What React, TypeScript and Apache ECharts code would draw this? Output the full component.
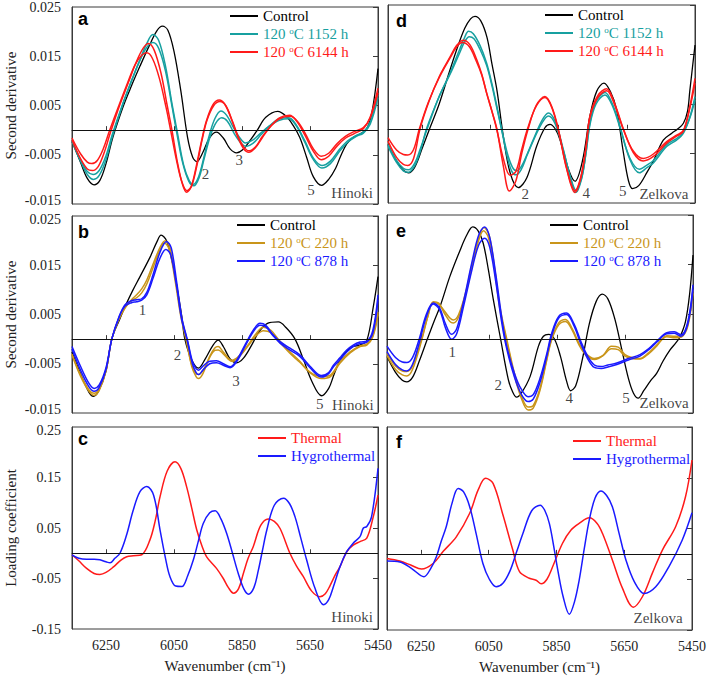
import React, { useEffect, useRef } from "react";
import * as echarts from "echarts";

type P = [number, number][];

// Second-derivative panels: values in units of 10^-3 (axis labels show the real value)
// ---------- Panel a (Hinoki, thermal) ----------
const aControl: P = [[6350,-2.3],[6325,-6.5],[6305,-9.8],[6285,-11.1],[6268,-10.2],[6250,-6.8],[6230,-1.5],[6200,4.7],[6175,9],[6150,13],[6125,16.8],[6100,20.2],[6084,21.1],[6068,20.3],[6050,16],[6030,8],[6010,-1.5],[5995,-5.5],[5983,-6.4],[5965,-4.5],[5945,-1.5],[5925,-0.4],[5905,-1.6],[5885,-3.8],[5866,-4.6],[5848,-4],[5825,-2],[5805,0],[5780,2.6],[5745,3.8],[5720,2.8],[5700,1],[5680,-1.5],[5660,-5.5],[5640,-9.5],[5616,-11.2],[5595,-10],[5575,-7.8],[5560,-5.3],[5542,-2.8],[5523,-1.5],[5503,-0.8],[5483,0.3],[5468,3.5],[5450,12.5]];
const aTeal1: P = [[6350,-2.3],[6325,-6.3],[6305,-9],[6287,-10],[6270,-9.2],[6250,-6],[6232,-1.5],[6200,5.3],[6175,10],[6150,14.3],[6130,17.6],[6112,19.4],[6095,18.2],[6075,13],[6055,5],[6040,-0.5],[6022,-7],[6005,-10.3],[5993,-11],[5978,-9.5],[5962,-5.5],[5948,-1.5],[5930,2.3],[5912,3.9],[5895,3],[5875,0.5],[5855,-1.7],[5840,-2.6],[5820,-2.1],[5795,-0.6],[5770,0.8],[5740,2],[5712,2.3],[5690,0.8],[5665,-2.5],[5640,-6],[5615,-7.7],[5590,-6.8],[5562,-4.2],[5540,-2.5],[5515,-1.3],[5493,-0.6],[5473,1.2],[5450,6.6]];
const aTeal2: P = [[6350,-2],[6325,-6],[6305,-8.4],[6288,-9],[6270,-8.2],[6250,-5.2],[6232,-1],[6200,5.5],[6175,10],[6150,14.2],[6128,17],[6112,17.8],[6095,16.6],[6075,12],[6055,4.5],[6042,-0.5],[6025,-6.5],[6007,-10.3],[5992,-11.3],[5977,-9.8],[5962,-6],[5945,-1.6],[5928,1.3],[5910,2.5],[5893,1.8],[5872,-0.8],[5852,-2.7],[5838,-3.3],[5818,-2.7],[5795,-1],[5770,0.8],[5740,2.3],[5712,2.5],[5690,1],[5665,-2.2],[5640,-5.7],[5615,-7.2],[5590,-6.3],[5562,-3.8],[5540,-2.2],[5515,-1.1],[5493,-0.4],[5473,1.6],[5450,7.2]];
const aRed1: P = [[6350,-2],[6325,-5.8],[6305,-7.9],[6290,-8.2],[6273,-7.4],[6255,-4.5],[6237,-0.5],[6210,5],[6185,9.5],[6160,14],[6140,16.7],[6125,17.6],[6108,16.2],[6088,11.5],[6070,5],[6056,0],[6040,-6.5],[6025,-11],[6013,-12.6],[6000,-11.6],[5985,-7.5],[5970,-2.5],[5955,1.8],[5935,5.2],[5917,6.1],[5900,5.2],[5880,2],[5862,-1.5],[5845,-3.8],[5830,-4.5],[5812,-3.7],[5790,-1.5],[5768,0.6],[5740,2.5],[5710,3],[5688,1.7],[5665,-1],[5640,-4.3],[5617,-6],[5595,-5.3],[5570,-3.2],[5545,-1.6],[5520,-0.7],[5493,0.3],[5473,2.6],[5450,8.5]];
const aRed2: P = [[6350,-1.6],[6325,-4.8],[6305,-6.5],[6292,-6.8],[6275,-6.1],[6258,-3.8],[6240,-0.2],[6212,5],[6187,9.5],[6165,13.2],[6145,15.2],[6130,15.7],[6113,14.5],[6093,10.5],[6073,4.5],[6060,0],[6043,-6],[6027,-10.5],[6012,-12.3],[5998,-11.3],[5983,-7.3],[5968,-2.2],[5953,2],[5933,5],[5915,5.8],[5898,5],[5878,1.8],[5860,-1.5],[5843,-3.6],[5828,-4.2],[5810,-3.4],[5790,-1.3],[5768,0.6],[5740,2.3],[5708,2.8],[5686,1.7],[5663,-0.8],[5640,-3.8],[5617,-5.3],[5595,-4.7],[5570,-2.7],[5545,-1.2],[5520,-0.3],[5493,0.5],[5473,2.5],[5450,7.6]];

// ---------- Panel b (Hinoki, hygrothermal) ----------
const bControl: P = [[6350,-2.6],[6325,-7],[6300,-10.8],[6287,-11.6],[6272,-10.6],[6250,-6.5],[6233,0],[6210,4],[6194,6.6],[6172,9.8],[6150,12.7],[6120,16.7],[6100,19.8],[6088,21.1],[6072,20],[6052,14.7],[6035,8],[6027,4.6],[6018,0],[5998,-4.2],[5978,-5.9],[5958,-4],[5935,-1.2],[5920,-0.2],[5905,-1.5],[5885,-4],[5866,-4.8],[5845,-3.8],[5820,-1],[5800,1.5],[5775,3.2],[5743,3.5],[5720,2.3],[5694,0],[5670,-4],[5645,-8.5],[5616,-11.5],[5595,-10],[5581,-7.5],[5562,-4.3],[5542,-2.4],[5523,-1.5],[5503,-1.2],[5483,-0.3],[5464,6.5],[5450,12.7]];
const bGold1: P = [[6350,-3.2],[6325,-7.5],[6300,-10.6],[6285,-11.4],[6270,-10.4],[6250,-6.5],[6233,0],[6212,4],[6194,6.3],[6175,8],[6160,9],[6145,10.2],[6130,12],[6110,15.5],[6090,18.8],[6076,20],[6062,18.6],[6045,12],[6028,4.5],[6013,0],[5998,-5.5],[5985,-7.6],[5978,-8],[5965,-7],[5945,-3.5],[5930,-1.8],[5920,-1.5],[5905,-2.6],[5880,-4.3],[5860,-3.5],[5830,-1],[5810,1],[5787,2.4],[5765,1.8],[5740,-0.3],[5710,-2.5],[5680,-4.5],[5650,-6.8],[5616,-8],[5590,-7.6],[5562,-4.9],[5532,-2.8],[5503,-1.5],[5483,-1.2],[5465,0.5],[5450,5]];
const bGold2: P = [[6350,-3],[6325,-7.2],[6300,-10.3],[6285,-11],[6270,-10],[6250,-6.2],[6233,0],[6212,4.2],[6194,6.5],[6175,7.8],[6160,8.4],[6145,9.4],[6130,11.2],[6110,14.8],[6092,18],[6078,19.5],[6064,18.2],[6047,12],[6030,4.6],[6015,0],[6000,-4.8],[5987,-6.8],[5978,-7.2],[5965,-6.4],[5945,-3.7],[5930,-2.3],[5920,-2.2],[5905,-3],[5880,-4.5],[5860,-3.7],[5830,-1.2],[5810,0.6],[5787,1.7],[5765,1.3],[5740,-0.6],[5710,-2.8],[5680,-4.7],[5650,-6.7],[5616,-7.6],[5590,-7.3],[5562,-4.6],[5532,-2.6],[5503,-1.4],[5483,-1],[5465,0.8],[5450,5.5]];
const bBlue1: P = [[6350,-1.5],[6325,-5.5],[6300,-9],[6285,-10],[6270,-9.3],[6250,-5.8],[6233,0],[6212,4.5],[6194,7],[6175,7.8],[6160,8],[6145,8.2],[6130,9.5],[6112,13],[6092,17.5],[6072,19.8],[6058,18.5],[6042,11.5],[6026,4],[6011,0],[5996,-4.5],[5985,-6],[5978,-6.3],[5965,-5.5],[5945,-4.5],[5925,-4.4],[5905,-5],[5885,-5.6],[5865,-4.2],[5840,-1],[5815,2],[5797,3.2],[5780,2.8],[5760,1],[5738,-0.5],[5710,-1.8],[5680,-3.2],[5650,-5.5],[5616,-7.4],[5595,-6.8],[5581,-5.3],[5562,-3.8],[5542,-2.2],[5523,-1.2],[5503,-0.6],[5483,-0.4],[5465,1.8],[5450,9]];
const bBlue2: P = [[6350,-2],[6325,-6.3],[6300,-9.7],[6285,-10.6],[6270,-9.8],[6250,-6.2],[6233,0],[6212,4.4],[6194,6.7],[6175,7.4],[6160,7.6],[6145,7.9],[6130,9],[6112,12.3],[6092,16.3],[6074,18.2],[6060,17.2],[6043,11],[6027,3.8],[6012,0],[5996,-5],[5985,-6.8],[5978,-7.2],[5965,-6.3],[5945,-5],[5925,-4.8],[5905,-5.3],[5885,-5.8],[5865,-4.5],[5840,-1.3],[5815,1.7],[5797,2.8],[5780,2.5],[5760,0.8],[5738,-0.8],[5710,-2.2],[5680,-3.5],[5650,-5.8],[5616,-7.7],[5595,-7],[5581,-5.6],[5562,-4.2],[5542,-2.6],[5523,-1.5],[5503,-0.9],[5483,-0.6],[5465,1.3],[5450,8]];

// ---------- Panel d (Zelkova, thermal) ----------
const dControl: P = [[6350,-3.2],[6325,-6.5],[6305,-8.4],[6290,-8.9],[6272,-7.8],[6250,-4],[6228,0],[6200,5],[6170,11.5],[6145,16.7],[6125,20.3],[6108,22.2],[6095,22.7],[6078,21.8],[6060,18.5],[6045,13],[6030,7.5],[6012,-1.5],[5992,-8.9],[5968,-11.9],[5943,-9.9],[5914,-3.5],[5890,0.2],[5875,0.9],[5860,0],[5846,-2.2],[5821,-8.2],[5802,-10.6],[5780,-6.5],[5758,2.6],[5738,7.6],[5717,9.2],[5698,7.5],[5680,3.9],[5660,-4.8],[5645,-10.5],[5633,-12.1],[5615,-11.5],[5590,-8.7],[5572,-6.5],[5543,-2.3],[5518,-0.9],[5500,0],[5484,1.1],[5472,3.5],[5465,7.8],[5450,16.9]];
const dTeal1: P = [[6350,-3.5],[6325,-6.8],[6305,-8.5],[6290,-8.8],[6272,-7.5],[6255,-4.5],[6237,0],[6200,6.5],[6168,11.3],[6140,16],[6125,18.5],[6114,19.7],[6100,19.2],[6080,16.8],[6061,13.3],[6045,9],[6031,4.6],[6017,0],[6000,-5],[5985,-7.8],[5973,-8.5],[5958,-7.5],[5940,-4.8],[5924,-2.2],[5900,1.5],[5880,3.2],[5860,1.5],[5836,-4.2],[5815,-10],[5799,-12.9],[5782,-10],[5770,-5],[5758,1.2],[5740,5.5],[5714,7.3],[5692,5],[5670,0.5],[5641,-6.2],[5613,-8.9],[5590,-7.8],[5572,-6.9],[5533,-3.6],[5504,-2.3],[5484,-0.9],[5465,2.4],[5450,6.5]];
const dTeal2: P = [[6350,-3.2],[6325,-6.4],[6305,-8],[6290,-8.3],[6272,-7],[6255,-4],[6235,0],[6200,6.5],[6168,11],[6140,15.3],[6125,17.6],[6112,18.6],[6098,18.2],[6080,16],[6061,12.8],[6045,8.6],[6031,4.2],[6016,-0.5],[6000,-5.8],[5987,-8.6],[5975,-9.3],[5960,-8.3],[5942,-5.3],[5924,-2.4],[5900,1],[5880,2.6],[5860,1],[5836,-4.4],[5815,-9.8],[5799,-12.4],[5782,-9.8],[5770,-5.2],[5758,0.8],[5740,5],[5714,6.8],[5692,4.6],[5670,0.2],[5641,-5.9],[5613,-8.2],[5590,-7.3],[5572,-6.4],[5533,-3.2],[5504,-2],[5484,-0.7],[5465,2.2],[5450,5.8]];
const dRed1: P = [[6350,-2.5],[6325,-5.8],[6305,-7.2],[6292,-7.4],[6275,-6],[6256,0],[6230,5.5],[6200,10.5],[6168,14.5],[6149,16.8],[6129,17.9],[6110,17],[6090,14],[6075,11],[6061,7.3],[6045,3.5],[6031,0],[6012,-7.5],[5994,-12.6],[5975,-10.5],[5958,-5],[5939,0],[5915,4.8],[5890,6.5],[5870,4.5],[5851,0],[5826,-8.2],[5802,-12.9],[5785,-10],[5770,-4],[5758,2.6],[5735,6.7],[5709,8.1],[5685,5],[5660,0],[5631,-4.8],[5602,-6.5],[5572,-5.6],[5533,-2.9],[5504,-1.5],[5484,-0.5],[5465,4.6],[5450,10.2]];
const dRed2: P = [[6350,-1.8],[6325,-4.3],[6305,-5.2],[6292,-5.3],[6275,-4.2],[6258,0],[6232,5.3],[6200,10.3],[6168,14.3],[6149,16.5],[6132,17.4],[6112,16.6],[6092,13.8],[6075,10.8],[6061,7.2],[6045,3.4],[6031,-0.2],[6012,-6],[5992,-9.4],[5975,-8.6],[5958,-4.2],[5941,0],[5915,4.6],[5890,6.3],[5870,4.3],[5851,-0.2],[5826,-8],[5802,-12.5],[5785,-9.8],[5770,-4],[5758,2.3],[5735,6.3],[5709,7.7],[5685,4.7],[5660,-0.2],[5631,-4.5],[5602,-6],[5572,-5.1],[5533,-2.6],[5504,-1.3],[5484,-0.3],[5465,4.2],[5450,9.2]];

// ---------- Panel e (Zelkova, hygrothermal) ----------
const eControl: P = [[6350,-3.6],[6325,-6.8],[6305,-8.4],[6292,-8.7],[6275,-7.8],[6255,-4.5],[6231,0],[6210,3.8],[6194,6.5],[6165,12.6],[6135,17.9],[6115,21],[6098,22.6],[6082,21.8],[6067,19.3],[6052,14],[6037,7.8],[6016,0],[5993,-8.3],[5980,-10.8],[5969,-11.8],[5955,-11],[5929,-7.6],[5905,-1.6],[5890,0.5],[5875,0.9],[5858,0],[5840,-3.5],[5822,-8.5],[5810,-10.5],[5795,-9.5],[5775,-4],[5755,3],[5735,7.5],[5717,9],[5700,8],[5680,4],[5660,-2],[5640,-8],[5625,-11],[5611,-12],[5595,-10.5],[5575,-8.5],[5557,-7],[5538,-4.5],[5518,-2.3],[5500,-0.8],[5488,0.4],[5472,3.5],[5460,9],[5450,16.9]];
const eGold1: P = [[6350,-2.9],[6325,-5.5],[6305,-6.5],[6292,-6.6],[6275,-5.5],[6248,0],[6230,4.5],[6214,7.3],[6198,7],[6180,5.5],[6165,4.2],[6155,3.8],[6140,4.8],[6120,9],[6100,15],[6082,20],[6065,22.5],[6050,21],[6035,15],[6018,6.5],[5998,0],[5975,-7],[5955,-11.5],[5935,-13.8],[5920,-13.5],[5900,-10],[5880,-4],[5866,0],[5845,3.2],[5825,3.9],[5805,2],[5785,-1],[5765,-3],[5740,-4],[5715,-3.4],[5690,-2],[5670,-2.2],[5650,-3.5],[5630,-4],[5606,-4.1],[5580,-3],[5557,-1.5],[5527,0.6],[5503,0.5],[5483,0.7],[5465,3],[5450,9.9]];
const eGold2: P = [[6350,-3.4],[6325,-6.2],[6305,-7.3],[6292,-7.5],[6275,-6.2],[6248,-0.3],[6230,4.5],[6214,7.5],[6198,7.2],[6180,5],[6165,3.5],[6155,3.2],[6140,4.3],[6120,8.6],[6100,14.5],[6082,19.5],[6066,21.8],[6052,20.5],[6035,14.6],[6018,6],[5998,-0.5],[5975,-7.5],[5955,-12],[5935,-14.4],[5920,-14],[5900,-10.4],[5880,-4.3],[5866,-0.3],[5845,2.8],[5825,3.5],[5805,1.7],[5785,-1.3],[5765,-3.3],[5740,-4.2],[5715,-3.4],[5690,-1.5],[5670,-1.7],[5650,-3.2],[5630,-3.8],[5606,-4],[5580,-2.8],[5557,-1.3],[5527,0.4],[5503,0.2],[5483,0.4],[5465,2.6],[5450,9.2]];
const eBlue1: P = [[6350,-1.5],[6325,-3.8],[6305,-4.7],[6292,-4.8],[6275,-3.8],[6255,0],[6235,4.8],[6214,7.2],[6195,6.2],[6178,3],[6160,0.9],[6145,2],[6125,7.5],[6100,15.5],[6080,21],[6063,22.6],[6048,20.5],[6030,13],[6012,4],[5998,-1.5],[5975,-7],[5955,-10.2],[5935,-11.7],[5920,-11.3],[5900,-8],[5880,-3],[5866,1],[5845,4.5],[5822,5.2],[5800,3],[5780,-0.5],[5760,-3.5],[5740,-5.3],[5720,-5.6],[5700,-5.3],[5674,-4.9],[5640,-4],[5606,-3.2],[5580,-2],[5557,-0.5],[5527,1.2],[5505,1.4],[5485,0.8],[5465,3.5],[5450,10.9]];
const eBlue2: P = [[6350,-2.6],[6325,-5.2],[6305,-6.3],[6292,-6.5],[6275,-5.2],[6255,-0.8],[6235,4.3],[6214,7],[6195,5.8],[6178,2.2],[6160,-0.1],[6145,1],[6125,6.5],[6100,14],[6080,19],[6063,20.3],[6048,18.5],[6030,11.5],[6012,3],[5998,-2],[5975,-7.8],[5955,-11.2],[5935,-12.7],[5920,-12.2],[5900,-8.8],[5880,-3.5],[5866,0.5],[5845,4.2],[5822,4.9],[5800,2.6],[5780,-1],[5760,-4],[5740,-5.8],[5720,-6],[5700,-5.7],[5674,-5.2],[5640,-4.3],[5606,-3.5],[5580,-2.2],[5557,-0.7],[5527,1],[5505,1.1],[5485,0.5],[5465,3],[5450,10]];

// ---------- Panel c (Hinoki loadings) ----------
const cThermal: P = [[6350,-0.003],[6330,-0.015],[6307,-0.03],[6285,-0.04],[6268,-0.042],[6250,-0.038],[6228,-0.027],[6205,-0.013],[6189,-0.007],[6170,-0.005],[6145,-0.003],[6121,0.026],[6105,0.065],[6091,0.112],[6070,0.163],[6047,0.181],[6030,0.168],[6013,0.132],[5998,0.09],[5983,0.046],[5968,0.015],[5954,-0.007],[5925,-0.03],[5905,-0.05],[5890,-0.068],[5875,-0.079],[5860,-0.07],[5846,-0.04],[5832,-0.01],[5817,0.013],[5795,0.055],[5773,0.068],[5755,0.063],[5738,0.049],[5709,0],[5690,-0.025],[5670,-0.046],[5645,-0.075],[5621,-0.086],[5605,-0.08],[5591,-0.064],[5575,-0.042],[5562,-0.027],[5542,0.003],[5523,0.016],[5503,0.023],[5483,0.03],[5464,0.072],[5450,0.115]];
const cHygro: P = [[6350,-0.003],[6330,-0.01],[6307,-0.012],[6285,-0.012],[6268,-0.013],[6250,-0.017],[6238,-0.019],[6224,-0.01],[6209,0],[6190,0.035],[6170,0.085],[6150,0.122],[6130,0.132],[6110,0.115],[6091,0.046],[6075,-0.01],[6062,-0.046],[6045,-0.065],[6027,-0.066],[6010,-0.045],[5993,-0.013],[5978,0.025],[5964,0.059],[5945,0.08],[5929,0.084],[5912,0.068],[5895,0.039],[5878,0],[5861,-0.04],[5845,-0.07],[5831,-0.081],[5815,-0.068],[5802,-0.034],[5790,0.005],[5777,0.046],[5755,0.095],[5728,0.109],[5710,0.098],[5694,0.072],[5677,0.03],[5660,-0.013],[5635,-0.07],[5610,-0.102],[5595,-0.092],[5581,-0.066],[5562,-0.027],[5542,0.003],[5523,0.02],[5503,0.033],[5493,0.05],[5483,0.053],[5469,0.072],[5450,0.168]];

// ---------- Panel f (Zelkova loadings) ----------
const fThermal: P = [[6350,-0.009],[6312,-0.014],[6280,-0.022],[6248,-0.03],[6214,-0.019],[6184,0.005],[6145,0.034],[6106,0.08],[6081,0.126],[6059,0.149],[6037,0.139],[6008,0.077],[5979,0.008],[5959,-0.035],[5930,-0.048],[5910,-0.052],[5895,-0.059],[5878,-0.05],[5861,-0.025],[5832,0.021],[5807,0.047],[5783,0.06],[5753,0.071],[5730,0.06],[5714,0.04],[5685,-0.012],[5655,-0.068],[5623,-0.105],[5596,-0.084],[5567,-0.038],[5537,0.008],[5498,0.054],[5469,0.113],[5450,0.185]];
const fHygro: P = [[6350,-0.014],[6312,-0.016],[6277,-0.029],[6241,-0.045],[6222,-0.03],[6204,-0.005],[6190,0.025],[6175,0.054],[6158,0.1],[6140,0.129],[6124,0.122],[6106,0.093],[6087,0.04],[6067,-0.019],[6048,-0.05],[6028,-0.065],[6008,-0.058],[5988,-0.035],[5968,0.003],[5949,0.04],[5923,0.085],[5898,0.096],[5884,0.085],[5871,0.06],[5858,0.015],[5846,-0.032],[5830,-0.085],[5812,-0.119],[5797,-0.095],[5783,-0.052],[5768,0.01],[5753,0.067],[5736,0.11],[5719,0.124],[5702,0.115],[5685,0.093],[5665,0.04],[5645,-0.012],[5620,-0.055],[5591,-0.078],[5557,-0.065],[5518,-0.025],[5479,0.027],[5450,0.081]];

// ---------- Annotations [wavenumber, value, text] ----------
const annoA: [number, number, string][] = [[5957,-9,"2"],[5858,-6,"3"],[5647,-12.2,"5"],[5526,-12.8,"Hinoki"]];
const annoB: [number, number, string][] = [[6143,5.9,"1"],[6040,-3.2,"2"],[5868,-8.6,"3"],[5621,-13.2,"5"],[5524,-13.4,"Hinoki"]];
const annoC: [number, number, string][] = [[5526,-0.126,"Hinoki"]];
const annoD: [number, number, string][] = [[5948,-13.2,"2"],[5769,-12.9,"4"],[5662,-12.5,"5"],[5541,-13.2,"Zelkova"]];
const annoE: [number, number, string][] = [[6158,-2.6,"1"],[6023,-9.3,"2"],[5814,-12,"4"],[5647,-12,"5"],[5535,-13,"Zelkova"]];
const annoF: [number, number, string][] = [[5550,-0.126,"Zelkova"]];

const xTicks = { min: 5450, max: 6350, interval: 200 };
const derivTicks = { min: -15, max: 25, interval: 10 }; // x10^-3
const loadTicks = { min: -0.15, max: 0.25, interval: 0.1 };

const N_CTRL = "Control";
const N_1152 = "120 °C 1152 h";
const N_6144 = "120 °C 6144 h";
const N_220 = "120 °C 220 h";
const N_878 = "120 °C 878 h";
const N_TH = "Thermal";
const N_HY = "Hygrothermal";

const C_BLACK = "#000000";
const C_TEAL = "#17a0a0";
const C_RED = "#ff1a1a";
const C_GOLD = "#c9951a";
const C_BLUE = "#1a1aff";

const SERIF = "Liberation Serif";
const SANS = "Liberation Sans";

export default function App() {
  const ref = useRef<HTMLDivElement>(null);
  useEffect(() => {
    if (!ref.current) return;
    const chart = echarts.init(ref.current, null, { renderer: "svg" });

    // grid order: 0=a, 1=b, 2=c, 3=d, 4=e, 5=f
    const grids = [
      { left: 72, top: 5, width: 306, height: 199 },
      { left: 72, top: 216, width: 306, height: 197 },
      { left: 72, top: 427, width: 306, height: 202 },
      { left: 388, top: 5, width: 307, height: 198 },
      { left: 387, top: 215, width: 306, height: 198 },
      { left: 387, top: 427, width: 307, height: 203 },
    ].map((g) => ({ ...g, show: true, borderColor: "#3a3a3a", borderWidth: 1, backgroundColor: "transparent" }));

    const isLoad = (i: number) => i === 2 || i === 5;
    const hasYLabels = (i: number) => i < 3;
    const labelFont = { fontFamily: SERIF, fontSize: 14, color: "#222" };

    const xAxis = grids.map((_, i) => ({
      type: "value",
      gridIndex: i,
      min: xTicks.min,
      max: xTicks.max,
      interval: xTicks.interval,
      inverse: true,
      axisLine: { show: true, lineStyle: { color: "#3a3a3a", width: 1 } },
      axisTick: { show: true, inside: true, length: 4, lineStyle: { color: "#3a3a3a" } },
      splitLine: { show: false },
      axisLabel: {
        show: isLoad(i),
        margin: 9,
        ...labelFont,
        formatter: (v: number) => (v === xTicks.max ? "" : String(v)),
      },
      name: isLoad(i) ? "Wavenumber (cm⁻¹)" : "",
      nameLocation: "middle",
      nameGap: 29,
      nameTextStyle: { fontFamily: SERIF, fontSize: 15, color: "#222" },
    }));

    const yAxis: any[] = [];
    grids.forEach((_, i) => {
      const t = isLoad(i) ? loadTicks : derivTicks;
      const fmt = (v: number) => {
        const s = isLoad(i) ? v.toFixed(2) : (v / 1000).toFixed(3);
        // nudge the extreme labels where two panels' labels meet
        if (Math.abs(v - t.min) < 1e-9 && (i === 0 || i === 1)) return `{lo|${s}}`;
        if (Math.abs(v - t.max) < 1e-9 && (i === 1 || i === 2)) return `{hi|${s}}`;
        return s;
      };
      yAxis.push({
        type: "value",
        gridIndex: i,
        position: "left",
        min: t.min,
        max: t.max,
        interval: t.interval,
        axisLine: { show: true, lineStyle: { color: "#3a3a3a" } },
        axisTick: { show: false },
        splitLine: { show: false },
        axisLabel: {
          show: hasYLabels(i),
          margin: 11,
          ...labelFont,
          formatter: fmt,
          rich: {
            lo: { ...labelFont, padding: [0, 0, 7, 0] },
            hi: { ...labelFont, padding: [7, 0, 0, 0] },
          },
        },
        name: hasYLabels(i) ? (isLoad(i) ? "Loading coefficient" : "Second derivative") : "",
        nameLocation: "middle",
        nameGap: 54,
        nameRotate: 90,
        nameTextStyle: { fontFamily: SERIF, fontSize: 15, color: "#222" },
      });
      yAxis.push({
        type: "value",
        gridIndex: i,
        position: "right",
        min: t.min,
        max: t.max,
        interval: t.interval,
        axisLine: { show: true, lineStyle: { color: "#3a3a3a" } },
        axisTick: { show: true, inside: true, length: 5, lineStyle: { color: "#3a3a3a" } },
        splitLine: { show: false },
        axisLabel: { show: false },
      });
    });

    const zeroLine = {
      silent: true,
      symbol: "none",
      label: { show: false },
      lineStyle: { color: "#111", width: 1, type: "solid" },
      data: [{ yAxis: 0 }],
    };

    const line = (name: string, color: string, data: P, gi: number, width = 1.5, withZero = false) => ({
      type: "line",
      name,
      data,
      xAxisIndex: gi,
      yAxisIndex: gi * 2,
      smooth: 0.35,
      symbol: "none",
      showSymbol: false,
      color,
      lineStyle: { color, width },
      silent: true,
      ...(withZero ? { markLine: zeroLine } : {}),
    });

    const anno = (items: [number, number, string][], gi: number) => ({
      type: "scatter",
      xAxisIndex: gi,
      yAxisIndex: gi * 2,
      symbolSize: 1,
      itemStyle: { color: "rgba(0,0,0,0)" },
      silent: true,
      z: 5,
      data: items.map((d) => ({ value: [d[0], d[1]], name: d[2] })),
      label: {
        show: true,
        position: "inside",
        formatter: "{b}",
        fontFamily: SERIF,
        fontSize: 15,
        color: "#111",
      },
    });

    const series: any[] = [
      line(N_CTRL, C_BLACK, aControl, 0, 1.3, true),
      line(N_1152, C_TEAL, aTeal1, 0),
      line(N_1152, C_TEAL, aTeal2, 0),
      line(N_6144, C_RED, aRed1, 0),
      line(N_6144, C_RED, aRed2, 0),
      line(N_CTRL, C_BLACK, bControl, 1, 1.3, true),
      line(N_220, C_GOLD, bGold1, 1),
      line(N_220, C_GOLD, bGold2, 1),
      line(N_878, C_BLUE, bBlue1, 1),
      line(N_878, C_BLUE, bBlue2, 1),
      line(N_TH, C_RED, cThermal, 2, 1.5, true),
      line(N_HY, C_BLUE, cHygro, 2),
      line(N_CTRL, C_BLACK, dControl, 3, 1.3, true),
      line(N_1152, C_TEAL, dTeal1, 3),
      line(N_1152, C_TEAL, dTeal2, 3),
      line(N_6144, C_RED, dRed1, 3),
      line(N_6144, C_RED, dRed2, 3),
      line(N_CTRL, C_BLACK, eControl, 4, 1.3, true),
      line(N_220, C_GOLD, eGold1, 4),
      line(N_220, C_GOLD, eGold2, 4),
      line(N_878, C_BLUE, eBlue1, 4),
      line(N_878, C_BLUE, eBlue2, 4),
      line(N_TH, C_RED, fThermal, 5, 1.5, true),
      line(N_HY, C_BLUE, fHygro, 5),
      anno(annoA, 0),
      anno(annoB, 1),
      anno(annoC, 2),
      anno(annoD, 3),
      anno(annoE, 4),
      anno(annoF, 5),
    ];

    const legendBase = {
      orient: "vertical",
      padding: 0,
      itemGap: 2,
      itemWidth: 28,
      itemHeight: 2,
      icon: "rect",
      selectedMode: false,
      formatter: (name: string) => name.replace("°", "{s|o}"),
      textStyle: {
        fontFamily: SERIF,
        fontSize: 15,
        lineHeight: 16,
        rich: { s: { fontSize: 9, lineHeight: 10, verticalAlign: "top", fontFamily: SERIF } },
      },
    };
    const items = (pairs: [string, string][]) => pairs.map(([n, c]) => ({ name: n, textStyle: { color: c } }));
    const legend = [
      { ...legendBase, left: 230, top: 8, data: items([[N_CTRL, C_BLACK], [N_1152, C_TEAL], [N_6144, C_RED]]) },
      { ...legendBase, left: 237, top: 217, data: items([[N_CTRL, C_BLACK], [N_220, C_GOLD], [N_878, C_BLUE]]) },
      { ...legendBase, left: 258, top: 430, data: items([[N_TH, C_RED], [N_HY, C_BLUE]]) },
      { ...legendBase, left: 545, top: 7, data: items([[N_CTRL, C_BLACK], [N_1152, C_TEAL], [N_6144, C_RED]]) },
      { ...legendBase, left: 550, top: 217, data: items([[N_CTRL, C_BLACK], [N_220, C_GOLD], [N_878, C_BLUE]]) },
      { ...legendBase, left: 573, top: 433, data: items([[N_TH, C_RED], [N_HY, C_BLUE]]) },
    ];

    const letters: [string, number, number][] = [
      ["a", 78, 19], ["b", 78, 232], ["c", 78, 439],
      ["d", 396, 21], ["e", 396, 231], ["f", 396, 442],
    ];
    const graphic = letters.map(([t, x, y]) => ({
      type: "text",
      x,
      y,
      z: 10,
      style: { text: t, fill: "#000", fontFamily: SANS, fontWeight: "bold", fontSize: 18, verticalAlign: "middle", align: "left" },
    }));

    chart.setOption({
      animation: false,
      backgroundColor: "#ffffff",
      textStyle: { fontFamily: SERIF },
      grid: grids,
      xAxis,
      yAxis,
      legend,
      series,
      graphic,
    });
    return () => chart.dispose();
  }, []);
  return (
    <div
      ref={ref}
      style={{ position: "absolute", left: 0, top: 0, width: 709, height: 677, background: "#fff" }}
    />
  );
}
